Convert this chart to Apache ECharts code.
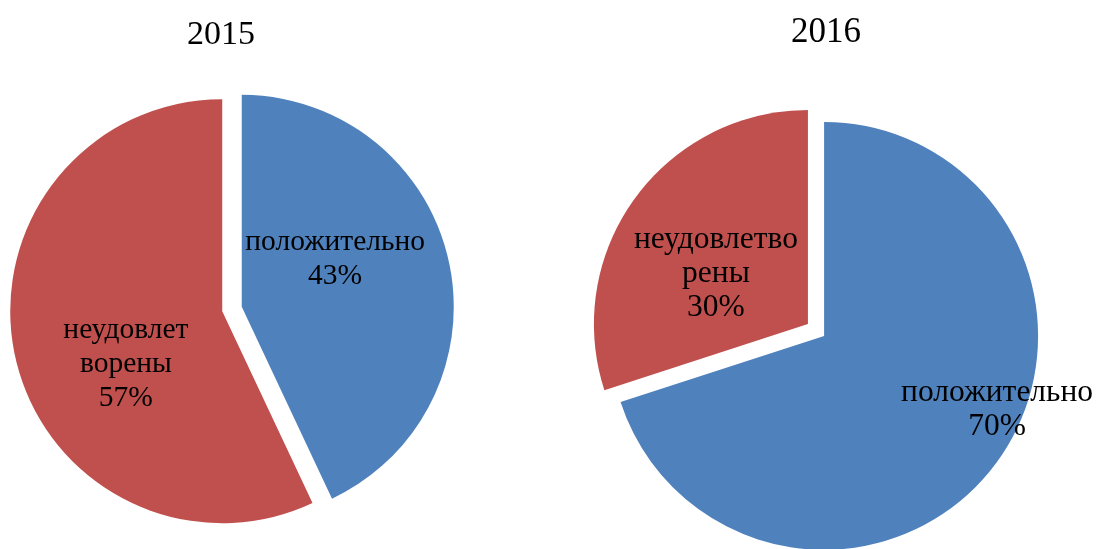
<!DOCTYPE html>
<html>
<head>
<meta charset="utf-8">
<style>
  html, body { margin: 0; padding: 0; background: #fff; }
  #chart { width: 1097px; height: 549px; }
</style>
<script src="https://cdn.jsdelivr.net/npm/echarts@6/dist/echarts.min.js"></script>
</head>
<body>
<div id="chart"></div>
<script>
var years = ['2015', '2016']
var categories = ['положительно', 'неудовлетворены']
// доли, %
var values2015 = [43, 57]
var values2016 = [70, 30]
// подписи внутри секторов, с переносами как на картинке
var labels2015 = ['положительно', 'неудовлет\nворены']
var labels2016 = ['положительно', 'неудовлетво\nрены']

var colors = ['#4F81BD', '#C0504D']
var font = '"Liberation Serif", "Times New Roman", serif'

// сдвиг подписей относительно позиции "inside"
var shift2015 = [[-13, -24], [10, 29]]
var shift2016 = [[84, 9], [-3, 14]]

var myChart = echarts.init(document.getElementById('chart'))

function makeData(values) {
    var result = []
    for (var i = 0; i < values.length; i++) {
        result.push({
            name: categories[i],
            value: values[i],
            selected: true,
            itemStyle: {color: colors[i]}
        })
    }
    return result
}

function makeSeries(values, labels, shift, center, radius, fontSize) {
    return {
        type: 'pie',
        center: center,
        radius: radius,
        startAngle: 90,
        clockwise: true,
        selectedMode: 'multiple',
        selectedOffset: 10,
        silent: true,
        data: makeData(values),
        itemStyle: {borderWidth: 0},
        select: {itemStyle: {borderWidth: 0}},
        label: {
            show: true,
            position: 'inside',
            color: '#000',
            fontFamily: font,
            fontSize: fontSize,
            lineHeight: 34,
            align: 'center',
            formatter: function (p) {
                return labels[p.dataIndex] + '\n' + p.value + '%'
            }
        },
        labelLine: {show: false},
        labelLayout: function (params) {
            return {dx: shift[params.dataIndex][0], dy: shift[params.dataIndex][1]}
        }
    }
}

var option = {
    animation: false,
    backgroundColor: '#fff',
    title: [
        {
            text: years[0],
            left: 216, top: 13,
            textAlign: 'center',
            textStyle: {fontFamily: font, fontSize: 34, fontWeight: 'normal', color: '#000'}
        },
        {
            text: years[1],
            left: 821, top: 10,
            textAlign: 'center',
            textStyle: {fontFamily: font, fontSize: 35, fontWeight: 'normal', color: '#000'}
        }
    ],
    series: [
        makeSeries(values2015, labels2015, shift2015, [232, 309], 212, 29.5),
        makeSeries(values2016, labels2016, shift2016, [816, 330], 214, 31.5)
    ]
}

myChart.setOption(option)
</script>
</body>
</html>
